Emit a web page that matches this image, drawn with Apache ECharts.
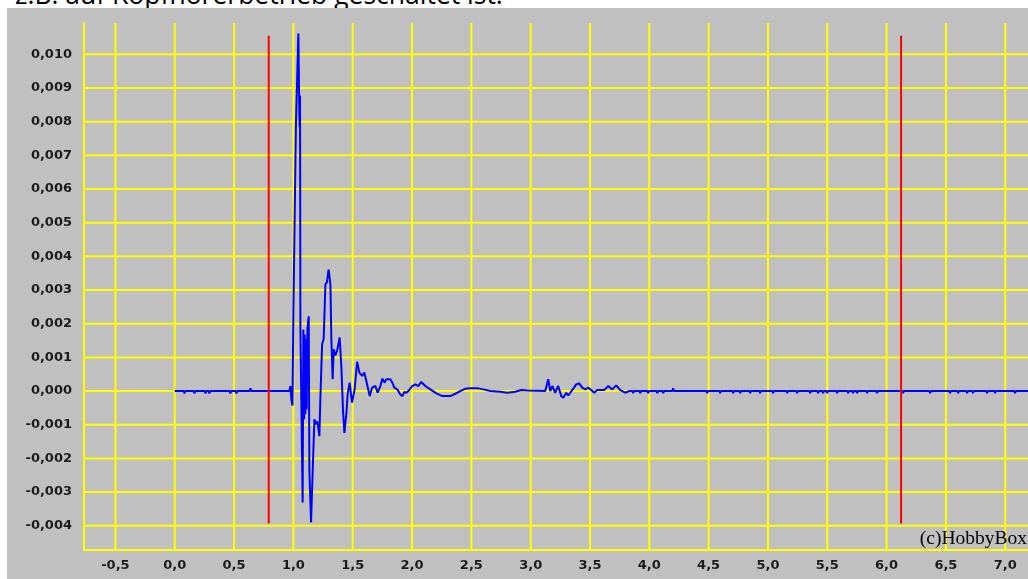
<!DOCTYPE html>
<html><head><meta charset="utf-8">
<script src="https://cdn.jsdelivr.net/npm/echarts@6/dist/echarts.min.js"></script>
<style>
html,body{margin:0;padding:0;width:1028px;height:579px;overflow:hidden;background:#fff;}
#cap{position:absolute;left:15px;top:-19px;font-family:'Open Sans';font-size:26.5px;line-height:26px;white-space:nowrap;color:#000;z-index:1;}
#chart{position:absolute;left:7px;top:8px;width:1021px;height:571px;z-index:2;}
</style></head><body>
<div id="cap">z.B. auf Kopfhörerbetrieb geschaltet ist.</div>
<div id="chart"></div>
<script>
// ---- data ----
const xTicks = [-0.5, 0.0, 0.5, 1.0, 1.5, 2.0, 2.5, 3.0, 3.5, 4.0, 4.5, 5.0, 5.5, 6.0, 6.5, 7.0];
const yTicks = [-0.004, -0.003, -0.002, -0.001, 0.000, 0.001, 0.002, 0.003, 0.004, 0.005, 0.006, 0.007, 0.008, 0.009, 0.010];
const xRange = [-0.765, 7.192];
const yRange = [-0.00472, 0.01093];
const markerTimes = [0.792, 6.122];
const markerSpan = [-0.00393, 0.01055];

const time = [
  0.000, 0.076, 0.082, 0.088, 0.160, 0.166, 0.172, 0.253, 0.259, 0.265,
  0.286, 0.292, 0.298, 0.463, 0.469, 0.475, 0.514, 0.520, 0.526, 0.632,
  0.638, 0.644, 0.966, 0.975, 0.983, 0.992, 1.000, 1.021, 1.042, 1.048,
  1.052, 1.056, 1.059, 1.070, 1.078, 1.084, 1.090, 1.095, 1.101, 1.107,
  1.112, 1.118, 1.122, 1.129, 1.135, 1.149, 1.163, 1.177, 1.190, 1.202,
  1.219, 1.227, 1.242, 1.255, 1.270, 1.282, 1.297, 1.312, 1.320, 1.331,
  1.340, 1.354, 1.368, 1.379, 1.390, 1.404, 1.419, 1.430, 1.447, 1.457,
  1.474, 1.494, 1.516, 1.537, 1.556, 1.579, 1.598, 1.621, 1.643, 1.663,
  1.691, 1.710, 1.733, 1.750, 1.767, 1.784, 1.800, 1.817, 1.834, 1.851,
  1.876, 1.901, 1.918, 1.935, 1.952, 1.969, 1.985, 2.002, 2.028, 2.053,
  2.078, 2.112, 2.154, 2.205, 2.255, 2.323, 2.365, 2.407, 2.449, 2.491,
  2.559, 2.601, 2.660, 2.744, 2.803, 2.870, 2.921, 2.971, 3.123, 3.148,
  3.165, 3.182, 3.207, 3.232, 3.258, 3.275, 3.300, 3.317, 3.334, 3.359,
  3.384, 3.409, 3.435, 3.460, 3.485, 3.510, 3.536, 3.561, 3.620, 3.654,
  3.688, 3.721, 3.755, 3.797, 3.830,
  3.858, 3.864, 3.870, 3.917, 3.923, 3.929, 3.985, 3.991, 3.997, 4.061,
  4.067, 4.073, 4.111, 4.117, 4.123, 4.195, 4.201, 4.207, 4.482, 4.488,
  4.494, 4.591, 4.597, 4.603, 4.701, 4.707, 4.713, 4.760, 4.766, 4.772,
  4.844, 4.850, 4.856, 4.928, 4.934, 4.940, 5.038, 5.044, 5.050, 5.156,
  5.162, 5.168, 5.240, 5.246, 5.252, 5.350, 5.356, 5.362, 5.417, 5.423,
  5.429, 5.459, 5.465, 5.471, 5.493, 5.499, 5.505, 5.577, 5.583, 5.589,
  5.670, 5.676, 5.682, 5.712, 5.718, 5.724, 5.746, 5.752, 5.758, 5.830,
  5.836, 5.842, 5.914, 5.920, 5.926, 6.133, 6.139, 6.145, 6.361, 6.367,
  6.373, 6.529, 6.535, 6.541, 6.597, 6.603, 6.609, 6.673, 6.679, 6.685,
  6.723, 6.729, 6.735, 6.841, 6.847, 6.853, 6.909, 6.915, 6.921, 7.077,
  7.083, 7.089, 7.192
];
const amplitude = [
  0, 0, -0.00007, 0, 0, -0.00007, 0, 0, -0.00007, 0,
  0, -0.00007, 0, 0, -0.00007, 0, 0, -0.00007, 0, 0,
  0.00008, 0, 0, 0.00015, -0.00025, -0.00043, 0.00231, 0.00786, 0.01062, 0.00878,
  0.00786, 0.00878, 0.00186, 0.00186, -0.00331, 0.00183, -0.00084, 0.00168, -0.00069, 0.00154,
  -0.00054, 0.00183, 0.00198, 0.00222, -0.00241, -0.00390, -0.00233, -0.00084, -0.00099, -0.00090,
  -0.00134, -0.00025, 0.00139, 0.00154, 0.00317, 0.00323, 0.00361, 0.00317, 0.00154, 0.00035,
  0.00124, 0.00106, 0.00119, 0.00118, 0.00159, 0.00074, -0.00064, -0.00124, -0.00064, -0.00010,
  0.00025, -0.00034, 0.00005, 0.00087, 0.00055, 0.00045, 0.00055, 0.00020, -0.00015, 0.00010,
  0.00015, -0.00005, 0.00015, 0.00037, 0.00025, 0.00035, 0.00030, 0.00035, 0.00025, 0.00010,
  0.00005, -0.00010, -0.00015, -0.00003, -0.00005, 0.00000, -0.00005, 0.00015, 0.00020, 0.00015,
  0.00027, 0.00015, 0.00005, -0.00007, -0.00015, -0.00015, -0.00008, 0.00000, 0.00007, 0.00008,
  0.00008, 0.00005, 0.00000, -0.00002, -0.00005, -0.00002, 0.00003, 0.00002, 0.00000, 0.00035,
  0.00000, 0.00015, -0.00005, 0.00015, -0.00015, -0.00020, -0.00005, -0.00013, -0.00005, 0.00007,
  0.00020, 0.00023, 0.00010, 0.00005, 0.00010, 0.00003, -0.00005, 0.00003, 0.00003, 0.00015,
  0.00005, 0.00017, 0.00003, -0.00005, 0.00000,
  0, -0.00006, 0, 0, -0.00006, 0, 0, -0.00006, 0, 0,
  -0.00006, 0, 0, -0.00006, 0, 0, 0.00008, 0, 0, -0.00006,
  0, 0, -0.00006, 0, 0, -0.00006, 0, 0, -0.00006, 0,
  0, -0.00006, 0, 0, -0.00006, 0, 0, -0.00006, 0, 0,
  -0.00006, 0, 0, -0.00006, 0, 0, -0.00006, 0, 0, -0.00006,
  0, 0, -0.00006, 0, 0, -0.00006, 0, 0, -0.00006, 0,
  0, -0.00006, 0, 0, -0.00006, 0, 0, -0.00006, 0, 0,
  -0.00006, 0, 0, -0.00006, 0, 0, -0.00006, 0, 0, -0.00006,
  0, 0, -0.00006, 0, 0, -0.00006, 0, 0, -0.00006, 0,
  0, -0.00006, 0, 0, -0.00006, 0, 0, -0.00006, 0, 0,
  -0.00006, 0, 0
];

// ---- chart ----
const chart = echarts.init(document.getElementById('chart'), null, { renderer: 'canvas' });
const signal = time.map((t, i) => [t, amplitude[i]]);
const labelFont = { color: '#1c1c1c', fontFamily: 'DejaVu Sans', fontSize: 13, fontWeight: 'bold' };
const gridColor = '#ffff00';

function segment(data, color, z) {
  return {
    type: 'line', z: z, silent: true, showSymbol: false, symbol: 'none',
    lineStyle: { color: color, width: 2 }, data: data
  };
}
const gridSeries = []
  .concat(xTicks.map(v => segment([[v, yRange[0]], [v, yRange[1]]], gridColor, 1)))
  .concat(yTicks.map(v => segment([[xRange[0], v], [xRange[1], v]], gridColor, 1)));
const markerSeries = markerTimes.map(t => segment([[t, markerSpan[0]], [t, markerSpan[1]]], '#ff0000', 4));

chart.setOption({
  backgroundColor: '#c0c0c0',
  animation: false,
  title: {
    text: '(c)HobbyBox', right: 1, top: 521, padding: 0,
    textStyle: { fontFamily: 'Liberation Serif', fontSize: 19.5, fontWeight: 'normal', color: '#000' }
  },
  grid: { left: 77, right: 0, top: 15, bottom: 29 },
  xAxis: {
    type: 'value', min: xRange[0], max: xRange[1],
    axisLine: { show: true, onZero: false, lineStyle: { color: gridColor, width: 2 } },
    axisTick: { show: false },
    splitLine: { show: false },
    axisLabel: Object.assign({ customValues: xTicks, margin: 9,
      formatter: v => v.toFixed(1).replace('.', ',') }, labelFont)
  },
  yAxis: {
    type: 'value', min: yRange[0], max: yRange[1],
    axisLine: { show: true, onZero: false, lineStyle: { color: gridColor, width: 2 } },
    axisTick: { show: false },
    splitLine: { show: false },
    axisLabel: Object.assign({ customValues: yTicks, margin: 12,
      formatter: v => v.toFixed(3).replace('.', ',') }, labelFont)
  },
  series: gridSeries.concat([
    segment(signal, '#0000ff', 3)
  ]).concat(markerSeries)
});
</script></body></html>
